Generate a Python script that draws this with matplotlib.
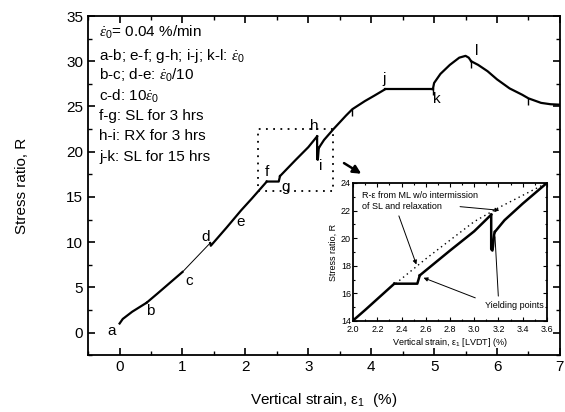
import matplotlib
matplotlib.use('Agg')
import matplotlib.pyplot as plt
from matplotlib.patches import Rectangle
from matplotlib.ticker import MultipleLocator

plt.rcParams['font.family'] = ['Liberation Sans', 'DejaVu Sans']
plt.rcParams['mathtext.fontset'] = 'custom'
plt.rcParams['mathtext.rm'] = 'Liberation Sans'
plt.rcParams['mathtext.it'] = 'Liberation Serif:italic'
plt.rcParams['xtick.direction'] = 'in'
plt.rcParams['ytick.direction'] = 'in'

# datos de la curva R - deformacion
strain_ab = [0.0, 0.05, 0.2, 0.43]
R_ab = [1.0, 1.5, 2.3, 3.3]
strain_bc = [0.43, 0.6, 0.8, 1.0]
R_bc = [3.3, 4.3, 5.5, 6.7]
strain_cd = [1.0, 1.44]
R_cd = [6.7, 9.9]
strain_df = [1.44, 1.45, 1.7, 1.93, 2.1, 2.34]
R_df = [9.9, 9.6, 11.6, 13.5, 14.8, 16.7]
strain_fg = [2.34, 2.53, 2.55]
R_fg = [16.7, 16.7, 17.3]
strain_gh = [2.55, 2.8, 3.0, 3.14]
R_gh = [17.3, 19.1, 20.5, 21.7]
strain_hi = [3.14, 3.14, 3.15, 3.155, 3.165, 3.17]
R_hi = [21.7, 19.2, 19.1, 19.4, 20.3, 20.45]
strain_ij = [3.17, 3.25, 3.4, 3.6, 3.7, 3.9, 4.05, 4.22]
R_ij = [20.45, 21.3, 22.5, 24.0, 24.7, 25.6, 26.2, 26.9]
strain_jk = [4.22, 4.98]
R_jk = [26.9, 26.9]
strain_kl = [4.98, 5.0, 5.1, 5.25, 5.4, 5.5, 5.55, 5.59]
R_kl = [26.9, 27.6, 28.6, 29.6, 30.4, 30.6, 30.4, 30.0]
strain_end = [5.59, 5.7, 5.85, 6.0, 6.2, 6.4, 6.5, 6.7, 6.85, 7.0]
R_end = [30.0, 29.6, 28.9, 28.0, 27.0, 26.3, 25.9, 25.4, 25.25, 25.2]

# marcas pequenas sobre la curva
tick_strain = [3.69, 4.98, 5.59, 6.49]
tick_R = [24.7, 27.0, 30.0, 25.9]

# linea de referencia (ML sin SL ni relajacion)
ref_strain = [2.35, 2.6, 3.0, 3.2, 3.6]
ref_R = [16.7, 18.5, 21.2, 22.2, 24.0]

# etiquetas de puntos
point_labels = ['a', 'b', 'c', 'd', 'e', 'f', 'g', 'h', 'i', 'j', 'k', 'l']
label_x = [-0.12, 0.49, 1.1, 1.36, 1.93, 2.34, 2.64, 3.1, 3.2, 4.2, 5.05, 5.67]
label_y = [0.2, 2.4, 5.7, 10.6, 12.2, 17.7, 16.1, 22.8, 18.4, 28.0, 25.8, 31.1]

info_lines = [r'$\dot{\varepsilon}_0$= 0.04 %/min',
              r'a-b; e-f; g-h; i-j; k-l: $\dot{\varepsilon}_0$',
              r'b-c; d-e: $\dot{\varepsilon}_0$/10',
              r'c-d: 10$\dot{\varepsilon}_0$',
              'f-g: SL for 3 hrs',
              'h-i: RX for 3 hrs',
              'j-k: SL for 15 hrs']
info_y = [33.2, 30.6, 28.4, 26.1, 23.9, 21.7, 19.4]

thick = [(strain_ab, R_ab), (strain_bc, R_bc), (strain_df, R_df), (strain_fg, R_fg),
         (strain_gh, R_gh), (strain_hi, R_hi), (strain_ij, R_ij), (strain_jk, R_jk),
         (strain_kl, R_kl), (strain_end, R_end)]

fig = plt.figure(figsize=(5.65, 4.12), dpi=100)
ax = fig.add_axes([0.156, 0.138, 0.835, 0.823])

for s, r in thick:
    ax.plot(s, r, color='black', lw=1.6)
ax.plot(strain_cd, R_cd, color='black', lw=0.7)
ax.plot(tick_strain, tick_R, ls='none', marker=3, ms=5, mew=1.0, color='black')

for lab, x, y in zip(point_labels, label_x, label_y):
    ax.text(x, y, lab, fontsize=11, ha='center', va='center')

for line, y in zip(info_lines, info_y):
    ax.text(-0.32, y, line, fontsize=11, ha='left', va='center')

ax.add_patch(Rectangle((2.2, 15.6), 1.2, 6.9, fill=False, ls=(0, (1, 3)), lw=1.3, color='black'))
ax.annotate('', xy=(3.88, 17.4), xytext=(3.53, 18.9),
            arrowprops=dict(arrowstyle='-|>', color='black', lw=1.8, mutation_scale=12))

ax.set_xlim(-0.5, 7)
ax.set_ylim(-2.5, 35)
ax.xaxis.set_major_locator(MultipleLocator(1))
ax.xaxis.set_minor_locator(MultipleLocator(0.5))
ax.yaxis.set_major_locator(MultipleLocator(5))
ax.yaxis.set_minor_locator(MultipleLocator(2.5))
ax.tick_params(which='both', top=True, right=True, labelsize=11)
ax.tick_params(which='major', length=5, width=1.2)
ax.tick_params(which='minor', length=3, width=1.0)
for sp in ax.spines.values():
    sp.set_linewidth(1.3)
ax.set_xlabel(r'Vertical strain, ε$_1$  (%)', fontsize=11, labelpad=12)
ax.set_ylabel('Stress ratio, R', fontsize=11, labelpad=27)

# recuadro ampliado
ins = fig.add_axes([0.625, 0.221, 0.343, 0.335])
for s, r in thick:
    ins.plot(s, r, color='black', lw=1.8)
ins.plot(ref_strain, ref_R, color='black', ls=(0, (1, 2.5)), lw=1.0)
ins.set_xlim(2.0, 3.6)
ins.set_ylim(14, 24)
ins.xaxis.set_major_locator(MultipleLocator(0.2))
ins.xaxis.set_minor_locator(MultipleLocator(0.1))
ins.yaxis.set_major_locator(MultipleLocator(2))
ins.yaxis.set_minor_locator(MultipleLocator(1))
ins.tick_params(which='both', top=True, right=True, labelsize=6.5)
ins.tick_params(axis='x', pad=3)
ins.tick_params(axis='y', pad=1.5)
ins.tick_params(which='major', length=3, width=0.8)
ins.tick_params(which='minor', length=1.5, width=0.8)
for sp in ins.spines.values():
    sp.set_linewidth(1.3)
ins.set_xticklabels([f'{v:.1f}' for v in ins.get_xticks()])
ins.set_xlabel(r'Vertical strain, ε$_1$ [LVDT] (%)', fontsize=6.5, labelpad=1)
ins.set_ylabel('Stress ratio, R', fontsize=6.5, labelpad=2)

ins.text(2.07, 23.1, 'R-ε from ML w/o intermission', fontsize=6.5, va='center')
ins.text(2.07, 22.3, 'of SL and relaxation', fontsize=6.5, va='center')
ins.annotate('', xy=(2.53, 17.9), xytext=(2.37, 21.8),
             arrowprops=dict(arrowstyle='-|>', color='black', lw=0.7, mutation_scale=6))
ins.annotate('', xy=(3.23, 22.0), xytext=(2.86, 22.3),
             arrowprops=dict(arrowstyle='-|>', color='black', lw=0.7, mutation_scale=6))
ins.text(3.33, 15.1, 'Yielding points', fontsize=6.5, ha='center', va='center')
ins.annotate('', xy=(2.56, 17.2), xytext=(3.03, 15.6),
             arrowprops=dict(arrowstyle='-|>', color='black', lw=0.7, mutation_scale=6))
ins.annotate('', xy=(3.17, 20.3), xytext=(3.2, 15.6),
             arrowprops=dict(arrowstyle='-', color='black', lw=0.7))

fig.savefig('out.png', dpi=100)
